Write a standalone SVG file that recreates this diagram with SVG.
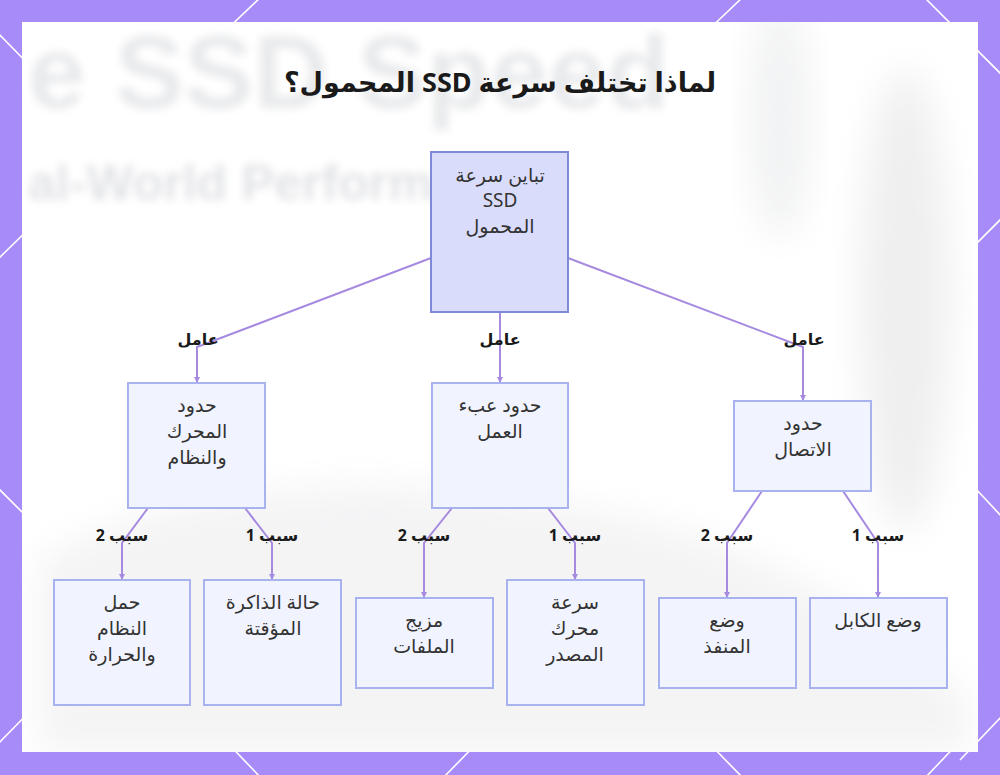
<svg xmlns="http://www.w3.org/2000/svg" width="1000" height="775" viewBox="0 0 1000 775">
<defs>
<style>
.deco{stroke:#ffffff;stroke-width:1.6;fill:none}
.node rect{fill:#f1f4fe;stroke:#a7b2ee;stroke-width:2}
.root rect{fill:#d9dcfb;stroke:#7e89d8;stroke-width:2}
.nt{font-family:"Noto Sans","DejaVu Sans",sans-serif;font-size:19px;fill:#333333;text-anchor:middle;direction:rtl}
.lbl{font-family:"Noto Sans","DejaVu Sans",sans-serif;font-size:16px;font-weight:bold;fill:#1a1a1a;text-anchor:middle;direction:rtl}
.edge{fill:none;stroke:#a58ae0;stroke-width:2;marker-end:url(#tip)}
.bgtxt{font-family:"Liberation Sans","Roboto",sans-serif;font-weight:bold}
</style>
<marker id="tip" viewBox="0 0 6 6" refX="5" refY="3" markerWidth="3" markerHeight="3" orient="auto">
<path d="M0,0 L6,3 L0,6 z" fill="#a58ae0"/>
</marker>
<clipPath id="panel"><rect x="22" y="22" width="956" height="730"/></clipPath>
<filter id="blur" x="-10%" y="-30%" width="120%" height="160%"><feGaussianBlur stdDeviation="4"/></filter>
<filter id="blur2" x="-30%" y="-30%" width="160%" height="160%"><feGaussianBlur stdDeviation="18"/></filter>
</defs>
<rect x="0" y="0" width="1000" height="775" fill="#a78bf8"/>
<g id="border-lines">
<line class="deco" x1="262" y1="-4" x2="220" y2="36"/>
<line class="deco" x1="744" y1="-4" x2="702" y2="36"/>
<line class="deco" x1="923" y1="-4" x2="1004" y2="77"/>
<line class="deco" x1="-4" y1="31" x2="40" y2="76"/>
<line class="deco" x1="-4" y1="261" x2="40" y2="218"/>
<line class="deco" x1="-4" y1="486" x2="40" y2="530"/>
<line class="deco" x1="-4" y1="746" x2="40" y2="701"/>
<line class="deco" x1="960" y1="260" x2="1004" y2="216"/>
<line class="deco" x1="960" y1="472" x2="1004" y2="519"/>
<line class="deco" x1="960" y1="760" x2="1004" y2="714"/>
<line class="deco" x1="222" y1="737" x2="262" y2="779"/>
<line class="deco" x1="483" y1="737" x2="442" y2="779"/>
<line class="deco" x1="703" y1="737" x2="744" y2="779"/>
<line class="deco" x1="964" y1="737" x2="924" y2="779"/>
</g>
<rect x="22" y="22" width="956" height="730" fill="#ffffff"/>
<g id="background-photo" clip-path="url(#panel)">
<ellipse cx="905" cy="300" rx="45" ry="230" fill="#efeff0" filter="url(#blur2)"/>
<ellipse cx="780" cy="120" rx="30" ry="120" fill="#f1f2f3" filter="url(#blur2)"/>
<path d="M40,560 C200,470 420,470 640,520 C800,560 900,640 970,700 L970,752 L40,752 Z" fill="#f3f3f4" filter="url(#blur2)" opacity="0.9"/>
<text class="bgtxt" x="28" y="108" font-size="104" fill="#e9eaec" filter="url(#blur)">e SSD Speed</text>
<text class="bgtxt" x="28" y="200" font-size="50" fill="#e2e3e6" filter="url(#blur)">al-World Performa</text>
</g>
<text id="title" x="500" y="92" direction="rtl" style="font-family:'Noto Sans','DejaVu Sans',sans-serif;font-size:27px;font-weight:bold;fill:#1a1a1a;text-anchor:middle">لماذا تختلف سرعة SSD المحمول؟</text>
<g id="connectors">
<polyline class="edge" points="431,258 197,347 197,382"/>
<polyline class="edge" points="500,312 500,382"/>
<polyline class="edge" points="568,258 803,347 803,400"/>
<polyline class="edge" points="148,508 122,543 122,579"/>
<polyline class="edge" points="245,508 272,543 272,579"/>
<polyline class="edge" points="452,508 424,543 424,597"/>
<polyline class="edge" points="548,508 575,543 575,579"/>
<polyline class="edge" points="762,491 727,543 727,597"/>
<polyline class="edge" points="843,491 878,543 878,597"/>
<text class="lbl" x="198" y="345">عامل</text>
<text class="lbl" x="500" y="345">عامل</text>
<text class="lbl" x="804" y="345">عامل</text>
<text class="lbl" x="122" y="541">سبب 2</text>
<text class="lbl" x="272" y="541">سبب 1</text>
<text class="lbl" x="424" y="541">سبب 2</text>
<text class="lbl" x="575" y="541">سبب 1</text>
<text class="lbl" x="727" y="541">سبب 2</text>
<text class="lbl" x="878" y="541">سبب 1</text>
</g>
<g id="root" class="root">
<rect x="431" y="152" width="137" height="160"/>
<text class="nt" x="500" y="182">تباين سرعة</text>
<text class="nt" x="500" y="207">SSD</text>
<text class="nt" x="500" y="233">المحمول</text>
</g>
<g id="n-engine" class="node">
<rect x="128" y="383" width="137" height="125"/>
<text class="nt" x="197" y="412">حدود</text>
<text class="nt" x="197" y="438">المحرك</text>
<text class="nt" x="197" y="464">والنظام</text>
</g>
<g id="n-workload" class="node">
<rect x="432" y="383" width="136" height="125"/>
<text class="nt" x="500" y="412">حدود عبء</text>
<text class="nt" x="500" y="438">العمل</text>
</g>
<g id="n-connection" class="node">
<rect x="734" y="401" width="137" height="90"/>
<text class="nt" x="803" y="430">حدود</text>
<text class="nt" x="803" y="456">الاتصال</text>
</g>
<g id="n-load" class="node">
<rect x="54" y="580" width="136" height="125"/>
<text class="nt" x="122" y="609">حمل</text>
<text class="nt" x="122" y="635">النظام</text>
<text class="nt" x="122" y="661">والحرارة</text>
</g>
<g id="n-cache" class="node">
<rect x="204" y="580" width="137" height="125"/>
<text class="nt" x="273" y="609">حالة الذاكرة</text>
<text class="nt" x="273" y="635">المؤقتة</text>
</g>
<g id="n-files" class="node">
<rect x="356" y="598" width="137" height="90"/>
<text class="nt" x="424" y="627">مزيج</text>
<text class="nt" x="424" y="653">الملفات</text>
</g>
<g id="n-source" class="node">
<rect x="507" y="580" width="137" height="125"/>
<text class="nt" x="575" y="609">سرعة</text>
<text class="nt" x="575" y="635">محرك</text>
<text class="nt" x="575" y="661">المصدر</text>
</g>
<g id="n-port" class="node">
<rect x="659" y="598" width="137" height="90"/>
<text class="nt" x="727" y="627">وضع</text>
<text class="nt" x="727" y="653">المنفذ</text>
</g>
<g id="n-cable" class="node">
<rect x="810" y="598" width="137" height="90"/>
<text class="nt" x="878" y="627">وضع الكابل</text>
</g>
</svg>
